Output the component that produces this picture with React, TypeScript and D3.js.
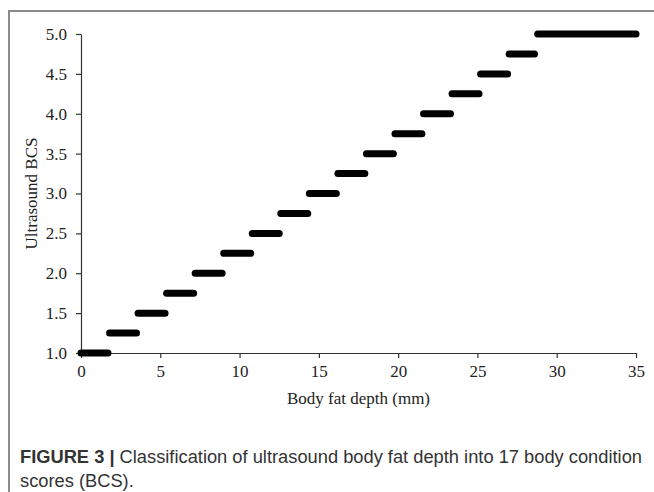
import React, { useEffect, useRef } from "react";
import * as d3 from "d3";

// BCS classes and their body fat depth ranges (mm)
const bcsScores = [1.0, 1.25, 1.5, 1.75, 2.0, 2.25, 2.5, 2.75, 3.0, 3.25, 3.5, 3.75, 4.0, 4.25, 4.5, 4.75, 5.0];
const depthStart = [0, 1.8, 3.6, 5.4, 7.2, 9.0, 10.8, 12.6, 14.4, 16.2, 18.0, 19.8, 21.6, 23.4, 25.2, 27.0, 28.8];
const depthEnd = [1.7, 3.5, 5.3, 7.1, 8.9, 10.7, 12.5, 14.3, 16.1, 17.9, 19.7, 21.5, 23.3, 25.1, 26.9, 28.6, 35.0];

const xTicks = [0, 5, 10, 15, 20, 25, 30, 35];
const yTicks = [1.0, 1.5, 2.0, 2.5, 3.0, 3.5, 4.0, 4.5, 5.0];

const xTitle = "Body fat depth (mm)";
const yTitle = "Ultrasound BCS";
const captionBold = "FIGURE 3 |";
const captionLine1 = " Classification of ultrasound body fat depth into 17 body condition";
const captionLine2 = "scores (BCS).";

const W = 654;
const H = 492;
const serif = "'Liberation Serif', 'Times New Roman', serif";
const sans = "'Liberation Sans', Arial, sans-serif";

const App: React.FC = () => {
  const svgRef = useRef<SVGSVGElement | null>(null);

  useEffect(() => {
    const svg = d3.select(svgRef.current);
    svg.selectAll("*").remove();

    const x = d3.scaleLinear().domain([0, 35]).range([81, 636]);
    const y = d3.scaleLinear().domain([1, 5]).range([353, 34]);

    // outer frame (runs off the right and bottom edges)
    svg
      .append("path")
      .attr("d", `M9,${H + 5} L9,11 L${W + 5},11`)
      .attr("fill", "none")
      .attr("stroke", "#8a8a8a")
      .attr("stroke-width", 2);

    // axes
    const xAxis = svg
      .append("g")
      .attr("transform", `translate(0,${y(1)})`)
      .call(
        d3
          .axisBottom(x)
          .tickValues(xTicks)
          .tickSize(5)
          .tickSizeOuter(0)
          .tickPadding(7)
          .tickFormat((d) => String(d))
      );

    const yAxis = svg
      .append("g")
      .attr("transform", `translate(${x(0)},0)`)
      .call(
        d3
          .axisLeft(y)
          .tickValues(yTicks)
          .tickSize(5)
          .tickSizeOuter(0)
          .tickPadding(9)
          .tickFormat((d) => d3.format(".1f")(d as number))
      );

    [xAxis, yAxis].forEach((g) => {
      g.select(".domain").attr("stroke", "#333").attr("stroke-width", 1.2);
      g.selectAll(".tick line").attr("stroke", "#333").attr("stroke-width", 1.2);
      g.selectAll(".tick text")
        .attr("fill", "#222")
        .style("font-family", serif)
        .style("font-size", "17px");
    });

    // step segments
    svg
      .append("g")
      .selectAll("line")
      .data(bcsScores)
      .join("line")
      .attr("x1", (_, i) => x(depthStart[i]))
      .attr("x2", (_, i) => x(depthEnd[i]))
      .attr("y1", (d) => y(d))
      .attr("y2", (d) => y(d))
      .attr("stroke", "#000")
      .attr("stroke-width", 7)
      .attr("stroke-linecap", "round");

    // axis titles
    svg
      .append("text")
      .attr("x", (x(0) + x(35)) / 2)
      .attr("y", 404)
      .attr("text-anchor", "middle")
      .attr("fill", "#222")
      .style("font-family", serif)
      .style("font-size", "17px")
      .text(xTitle);

    svg
      .append("text")
      .attr("transform", `translate(37,${(y(1) + y(5)) / 2}) rotate(-90)`)
      .attr("text-anchor", "middle")
      .attr("fill", "#222")
      .style("font-family", serif)
      .style("font-size", "17px")
      .text(yTitle);

    // caption
    const cap = svg
      .append("text")
      .attr("x", 20)
      .attr("y", 463)
      .attr("fill", "#333")
      .style("font-family", sans)
      .style("font-size", "18.3px");
    cap.append("tspan").attr("font-weight", "bold").text(captionBold);
    cap.append("tspan").text(captionLine1);

    svg
      .append("text")
      .attr("x", 20)
      .attr("y", 487)
      .attr("fill", "#333")
      .style("font-family", sans)
      .style("font-size", "18.3px")
      .text(captionLine2);
  }, []);

  return (
    <svg
      ref={svgRef}
      width={W}
      height={H}
      style={{ position: "absolute", left: 0, top: 0, background: "#fff" }}
    ></svg>
  );
};

export default App;
